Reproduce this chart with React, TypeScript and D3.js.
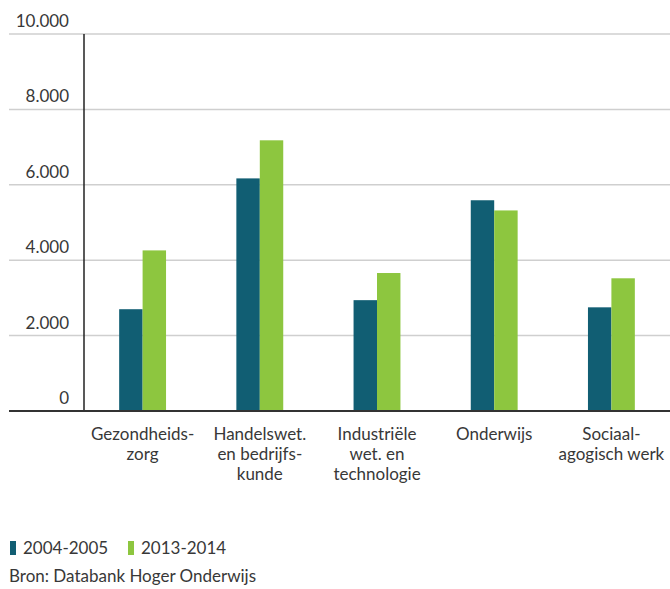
import { useEffect, useRef } from 'react'
import * as d3 from 'd3'

const categories = [
  ['Gezondheids-', 'zorg'],
  ['Handelswet.', 'en bedrijfs-', 'kunde'],
  ['Industriële', 'wet. en', 'technologie'],
  ['Onderwijs'],
  ['Sociaal-', 'agogisch werk'],
]
const series = ['2004-2005', '2013-2014']
const values2004 = [2700, 6170, 2940, 5590, 2750]
const values2013 = [4260, 7180, 3660, 5320, 3520]
const yTicks = [0, 2000, 4000, 6000, 8000, 10000]

const COLORS = ['#115e73', '#8dc63f']
const FONT = 'Lato, "Open Sans", sans-serif'
const TEXT = '#383838'

export default function App() {
  const svgRef = useRef<SVGSVGElement>(null)

  useEffect(() => {
    if (!svgRef.current) return
    const width = 670
    const height = 589
    const left = 84
    const right = 670
    const top = 34
    const bottom = 411

    const svg = d3.select(svgRef.current)
    svg.selectAll('*').remove()
    svg.attr('width', width).attr('height', height)

    const y = d3.scaleLinear().domain([0, 10000]).range([bottom, top])
    const x0 = d3
      .scaleBand<number>()
      .domain(d3.range(categories.length))
      .range([left, right])
      .paddingInner(0.6)
      .paddingOuter(0.3)
    const x1 = d3.scaleBand<number>().domain([0, 1]).range([0, x0.bandwidth()])

    // Grid lines
    svg
      .append('g')
      .selectAll('line')
      .data(yTicks.filter(d => d > 0))
      .enter()
      .append('line')
      .attr('x1', 9)
      .attr('x2', width)
      .attr('y1', d => y(d))
      .attr('y2', d => y(d))
      .attr('stroke', '#cfcfcf')
      .attr('stroke-width', 1.5)

    // Tick labels
    svg
      .append('g')
      .selectAll('text')
      .data(yTicks)
      .enter()
      .append('text')
      .attr('x', 69)
      .attr('y', d => y(d) - 7)
      .attr('text-anchor', 'end')
      .attr('fill', TEXT)
      .attr('font-family', FONT)
      .attr('font-size', '17px')
      .text(d => d3.format(',')(d).replace(/,/g, '.'))

    // Bars
    const groups = svg
      .append('g')
      .selectAll('g')
      .data(categories.map((_, i) => [values2004[i], values2013[i]]))
      .enter()
      .append('g')
      .attr('transform', (_, i) => `translate(${x0(i)},0)`)

    groups
      .selectAll('rect')
      .data(d => d)
      .enter()
      .append('rect')
      .attr('x', (_, j) => x1(j) ?? 0)
      .attr('width', x1.bandwidth())
      .attr('y', d => y(d))
      .attr('height', d => bottom - y(d))
      .attr('fill', (_, j) => COLORS[j])

    // Axes
    svg
      .append('line')
      .attr('x1', left)
      .attr('x2', left)
      .attr('y1', top)
      .attr('y2', bottom)
      .attr('stroke', '#222')
      .attr('stroke-width', 1.5)

    svg
      .append('line')
      .attr('x1', 9)
      .attr('x2', width)
      .attr('y1', bottom)
      .attr('y2', bottom)
      .attr('stroke', '#333')
      .attr('stroke-width', 2)

    // Category labels
    const labels = svg
      .append('g')
      .selectAll('text')
      .data(categories)
      .enter()
      .append('text')
      .attr('text-anchor', 'middle')
      .attr('fill', TEXT)
      .attr('font-family', FONT)
      .attr('font-size', '17px')
      .attr('transform', (_, i) => `translate(${(x0(i) ?? 0) + x0.bandwidth() / 2},440)`)

    labels
      .selectAll('tspan')
      .data(d => d)
      .enter()
      .append('tspan')
      .attr('x', 0)
      .attr('y', (_, j) => j * 20)
      .text(d => d)

    // Legend
    const legend = svg.append('g').attr('transform', 'translate(10,541)')
    const offsets = [0, 118]
    series.forEach((s, i) => {
      const row = legend.append('g').attr('transform', `translate(${offsets[i]},0)`)
      row.append('rect').attr('width', 6).attr('height', 14).attr('fill', COLORS[i])
      row
        .append('text')
        .attr('x', 13)
        .attr('y', 13)
        .attr('fill', TEXT)
        .attr('font-family', FONT)
        .attr('font-size', '17px')
        .text(s)
    })

    svg
      .append('text')
      .attr('x', 9)
      .attr('y', 582)
      .attr('fill', TEXT)
      .attr('font-family', FONT)
      .attr('font-size', '17px')
      .text('Bron: Databank Hoger Onderwijs')
  }, [])

  return (
    <svg ref={svgRef} style={{ position: 'absolute', left: 0, top: 0, background: '#fff' }} />
  )
}
